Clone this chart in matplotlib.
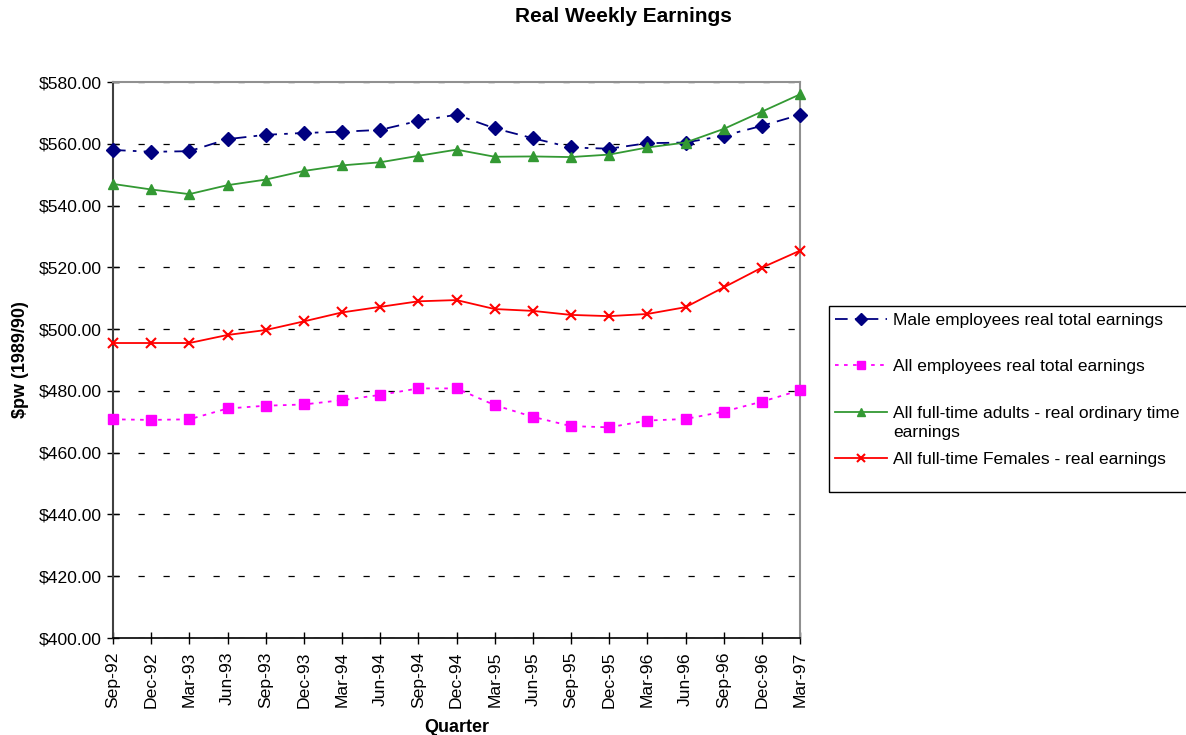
import matplotlib
matplotlib.use("Agg")
import matplotlib.pyplot as plt
from matplotlib.patches import Rectangle
from matplotlib.ticker import FuncFormatter, MultipleLocator

quarters = ["Sep-92", "Dec-92", "Mar-93", "Jun-93", "Sep-93", "Dec-93", "Mar-94",
            "Jun-94", "Sep-94", "Dec-94", "Mar-95", "Jun-95", "Sep-95", "Dec-95",
            "Mar-96", "Jun-96", "Sep-96", "Dec-96", "Mar-97"]

male_total = [558.0, 557.4, 557.6, 561.5, 562.9, 563.5, 563.9, 564.5, 567.4, 569.4,
              565.0, 561.8, 558.8, 558.4, 560.2, 560.4, 562.6, 565.8, 569.4]
all_total = [470.8, 470.6, 470.8, 474.3, 475.2, 475.6, 477.0, 478.7, 480.8, 480.8,
             475.4, 471.6, 468.6, 468.2, 470.4, 470.9, 473.3, 476.5, 480.2]
ft_adults_ord = [547.0, 545.2, 543.7, 546.6, 548.4, 551.2, 553.0, 554.0, 556.1, 558.1,
                 555.8, 555.9, 555.7, 556.5, 558.8, 560.4, 564.8, 570.4, 576.0]
ft_females = [495.5, 495.5, 495.5, 498.1, 499.7, 502.5, 505.4, 507.2, 509.0, 509.4,
              506.5, 505.9, 504.6, 504.2, 504.9, 507.1, 513.5, 519.9, 525.4]

labels = ["Male employees real total earnings",
          "All employees real total earnings",
          "All full-time adults - real ordinary time",
          "All full-time Females - real earnings"]
label_wrap = "earnings"

plt.rcParams['font.family'] = ['Liberation Sans', 'DejaVu Sans']

W, H = 1186, 735
fig = plt.figure(figsize=(W / 100, H / 100), dpi=100)
ax = fig.add_axes([113/W, 97/H, (800-113)/W, (638-82)/H])

x = list(range(len(quarters)))
l1, = ax.plot(x, male_total, color='#000080', linestyle=(0, (7, 4, 2, 4)), linewidth=1.3,
              marker='D', markersize=7, label=labels[0], clip_on=False, zorder=5)
l2, = ax.plot(x, all_total, color='#FF00FF', linestyle=(0, (2, 3)), linewidth=1.3,
              marker='s', markersize=7, label=labels[1], clip_on=False, zorder=5)
l3, = ax.plot(x, ft_adults_ord, color='#339933', linestyle='-', linewidth=1.3,
              marker='^', markersize=7.5, label=labels[2], clip_on=False, zorder=5)
l4, = ax.plot(x, ft_females, color='#FF0000', linestyle='-', linewidth=1.3,
              marker='x', markersize=7.5, markeredgewidth=1.5, label=labels[3],
              clip_on=False, zorder=5)

ax.set_xlim(0, len(quarters) - 1)
ax.set_ylim(400, 580)
ax.yaxis.set_major_locator(MultipleLocator(20))
ax.yaxis.set_major_formatter(FuncFormatter(lambda v, p: f"${v:,.2f}"))
ax.set_xticks(x)
ax.set_xticklabels(quarters, rotation=90)
ax.tick_params(axis='both', labelsize=12.6, direction='inout', length=8, width=1, color='black')
ax.tick_params(axis='x', pad=6)
ax.tick_params(axis='y', pad=4)

ax.yaxis.grid(True, color='black', linestyle=(0, (5, 15)), linewidth=0.9)
ax.set_axisbelow(True)

ax.spines['left'].set_color('#404040')
ax.spines['left'].set_linewidth(1.5)
ax.spines['bottom'].set_color('black')
ax.spines['bottom'].set_linewidth(1.2)
ax.spines['top'].set_color('#909090')
ax.spines['right'].set_color('#909090')
ax.spines['top'].set_linewidth(1.5)
ax.spines['right'].set_linewidth(1.5)

ax.set_ylabel("$pw (1989/90)", fontsize=13, fontweight='bold', labelpad=7)
ax.set_xlabel("Quarter", fontsize=13, fontweight='bold', labelpad=8)
fig.text(623/W, 1 - 17/H, "Real Weekly Earnings", ha='center', va='center',
         fontsize=15, fontweight='bold')

# legend frame (extends past the right edge, as in the reference)
fig.patches.append(Rectangle((829/W, 1 - 492/H), (1200-829)/W, (492-306)/H,
                             transform=fig.transFigure, fill=False,
                             edgecolor='black', linewidth=1.0, clip_on=False))
entry_y = [320, 366, 413, 459]
for handle, yy in zip([l1, l2, l3, l4], entry_y):
    fig.legend(handles=[handle], loc='center left',
               bbox_to_anchor=(835/W, 1 - yy/H), fontsize=12.5,
               frameon=False, handlelength=3.0, markerscale=0.85,
               handletextpad=0.35, borderpad=0, borderaxespad=0)
fig.text(893/W, 1 - 433/H, label_wrap, ha='left', va='center', fontsize=12.5)

fig.savefig("out.png", dpi=100)
